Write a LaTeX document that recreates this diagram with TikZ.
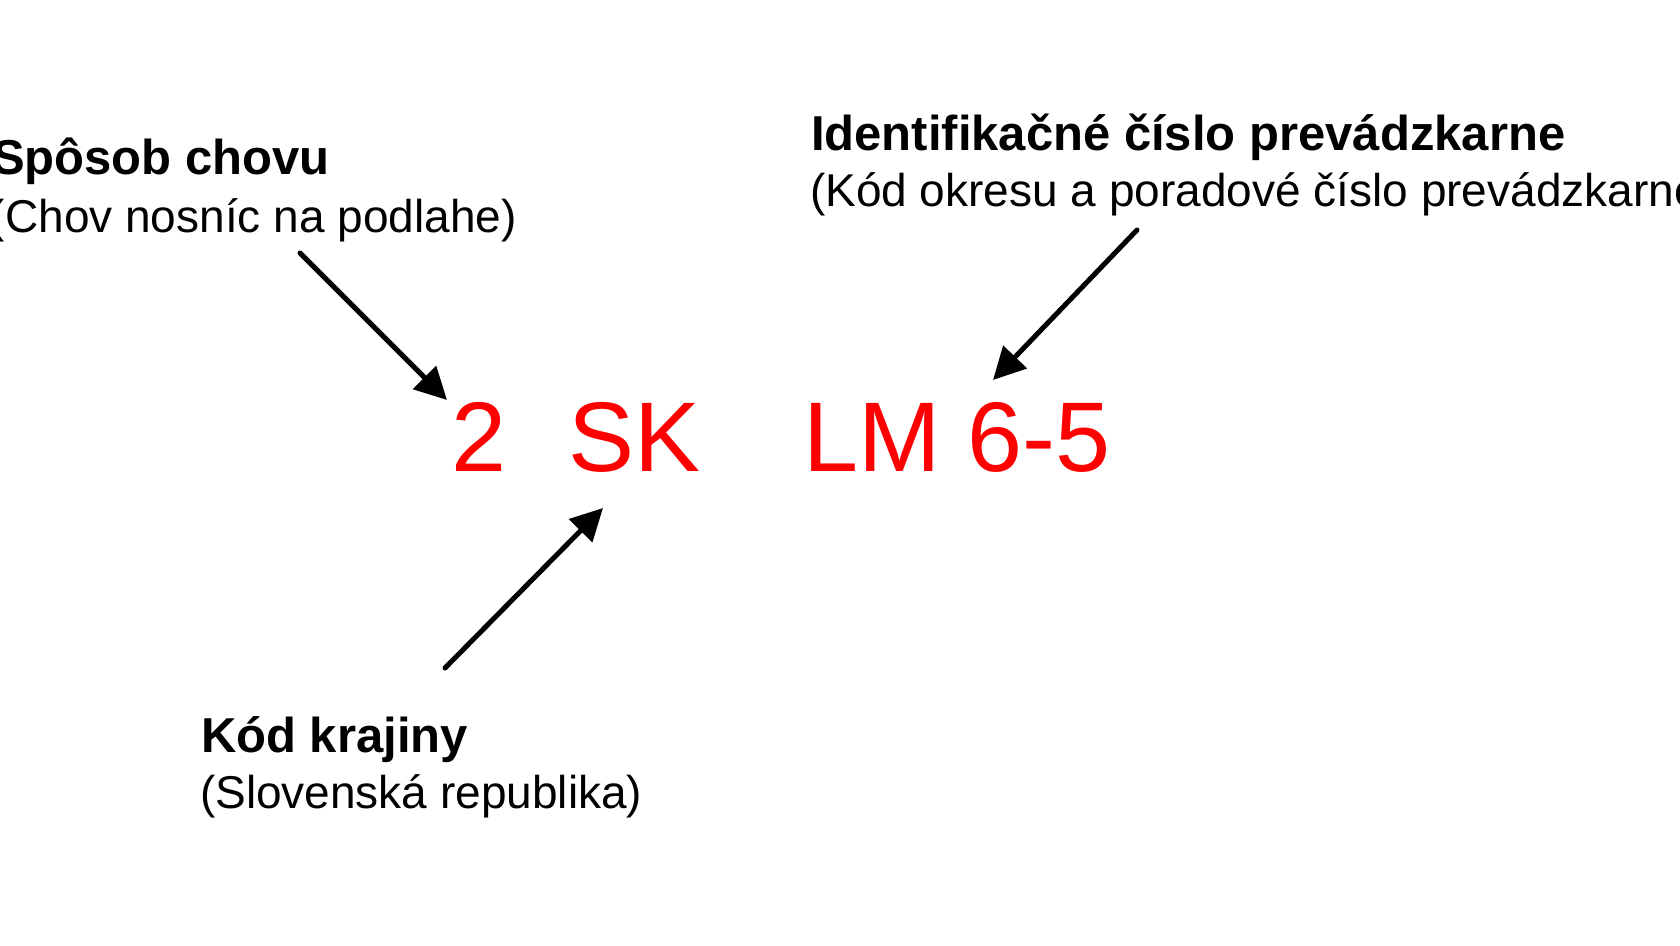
\documentclass[tikz,border=0pt]{standalone}
\usepackage{fontspec}
\setmainfont{Liberation Sans}
\usetikzlibrary{arrows.meta}
\definecolor{codered}{RGB}{255,0,0}
\begin{document}
\begin{tikzpicture}[x=1pt,y=-1pt,
  head/.style={font=\fontsize{49}{58}\selectfont\bfseries, anchor=base west, inner sep=0pt, outer sep=0pt},
  sub/.style={font=\fontsize{46}{55}\selectfont, anchor=base west, inner sep=0pt, outer sep=0pt},
  code/.style={font=\fontsize{99}{118}\selectfont, text=codered, anchor=base west, inner sep=0pt, outer sep=0pt},
  pointer/.style={line width=5pt, line cap=round, -{Triangle[length=32pt,width=32pt]}}]
\fill[white] (0,0) rectangle (1680,945);
\useasboundingbox (0,0) rectangle (1680,945);
% labels
\node[head] (t1) at (-8,174) {Spôsob chovu};
\node[sub]  (s1) at (-10,232) {(Chov nosníc na podlahe)};
\node[head] (t2) at (811,150) {Identifikačné číslo prevádzkarne};
\node[sub]  (s2) at (810,206) {(Kód okresu a poradové číslo prevádzkarne)};
\node[head] (t3) at (201,752) {Kód krajiny};
\node[sub]  (s3) at (200,808) {(Slovenská republika)};
% code
\node[code] (c1) at (451,471) {2};
\node[code] (c2) at (568,471) {SK};
\node[code] (c3) at (803,471) {LM 6-5};
% arrow ends
\coordinate (p1) at (300,253);
\coordinate (q1) at (447,400);
\coordinate (p2) at (1137,230);
\coordinate (q2) at (993,380);
\coordinate (p3) at (445,668);
\coordinate (q3) at (603,508);
\draw[pointer] (p1) -- (q1);
\draw[pointer] (p2) -- (q2);
\draw[pointer] (p3) -- (q3);
\end{tikzpicture}
\end{document}
